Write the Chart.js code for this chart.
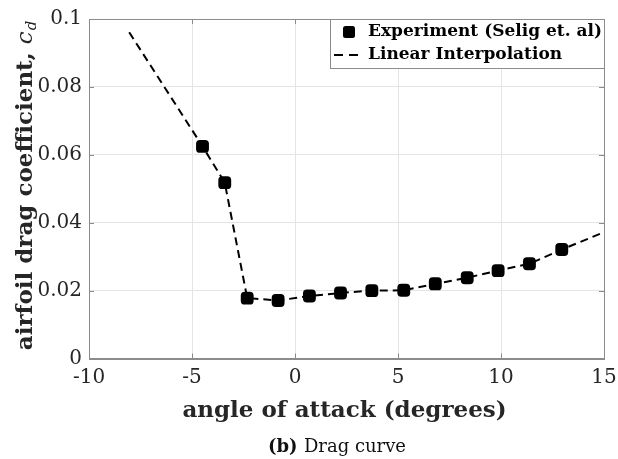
<!DOCTYPE html>
<html>
<head>
<meta charset="utf-8">
<script src="https://cdn.jsdelivr.net/npm/chart.js@4"></script>
<style>
  html, body { margin: 0; padding: 0; background: #fff; }
</style>
</head>
<body>
<canvas id="dragChart" width="618" height="459"></canvas>
<script>
// measured drag polar (angle of attack in degrees, drag coefficient)
const alphaExp = [-4.49, -3.41, -2.32, -0.82, 0.70, 2.21, 3.73, 5.28, 6.81, 8.36, 9.86, 11.38, 12.95];
const cdExp = [0.0625, 0.0518, 0.0178, 0.0171, 0.0184, 0.0193, 0.0200, 0.0201, 0.0220, 0.0238, 0.0259, 0.0279, 0.0321];

// piecewise linear curve through the points, carried out to both ends
const alphaFit = [-8.05, -4.49, -3.41, -2.32, -0.82, 0.70, 2.21, 3.73, 5.28, 6.81, 8.36, 9.86, 11.38, 12.95, 15];
const cdFit = [0.0961, 0.0625, 0.0518, 0.0178, 0.0171, 0.0184, 0.0193, 0.0200, 0.0201, 0.0220, 0.0238, 0.0259, 0.0279, 0.0321, 0.0372];

const xTicks = [-10, -5, 0, 5, 10, 15];
const yTicks = [0, 0.02, 0.04, 0.06, 0.08, 0.1];

const serif = "'DejaVu Serif', serif";
const axisGray = "#8c8c8c";
const textDark = "#262626";

const toPoints = (xs, ys) => xs.map((x, i) => ({ x: x, y: ys[i] }));

// box around the axes, inward tick marks, titles, caption and legend
const decorations = {
    id: "decorations",
    beforeDatasetsDraw(chart) {
        const ctx = chart.ctx;
        const a = chart.chartArea;
        const sx = chart.scales.x;
        const sy = chart.scales.y;
        ctx.save();
        ctx.strokeStyle = axisGray;
        ctx.lineWidth = 1;
        ctx.beginPath();
        xTicks.forEach(v => {
            const px = Math.round(sx.getPixelForValue(v)) + 0.5;
            ctx.moveTo(px, a.bottom); ctx.lineTo(px, a.bottom - 5);
            ctx.moveTo(px, a.top); ctx.lineTo(px, a.top + 5);
        });
        yTicks.forEach(v => {
            const py = Math.round(sy.getPixelForValue(v)) + 0.5;
            ctx.moveTo(a.left, py); ctx.lineTo(a.left + 5, py);
            ctx.moveTo(a.right, py); ctx.lineTo(a.right - 5, py);
        });
        ctx.stroke();
        ctx.strokeRect(Math.round(a.left) + 0.5, Math.round(a.top) + 0.5,
            Math.round(a.right - a.left), Math.round(a.bottom - a.top));
        ctx.restore();
    },
    afterDraw(chart) {
        const ctx = chart.ctx;
        const a = chart.chartArea;
        ctx.save();
        ctx.fillStyle = textDark;

        // x axis title
        ctx.font = "bold 23px " + serif;
        ctx.textAlign = "center";
        ctx.textBaseline = "alphabetic";
        ctx.fillText("angle of attack (degrees)", (a.left + a.right) / 2 - 2, 417);

        // y axis title with italic c_d
        ctx.save();
        ctx.translate(32, 186);
        ctx.rotate(-Math.PI / 2);
        const main = "airfoil drag coefficient, ";
        const boldFont = "bold 23px " + serif;
        const itFont = "italic 23px " + serif;
        const subFont = "italic 15px " + serif;
        ctx.font = boldFont; const w1 = ctx.measureText(main).width;
        ctx.font = itFont; const w2 = ctx.measureText("c").width;
        ctx.font = subFont; const w3 = ctx.measureText("d").width;
        let x0 = -(w1 + w2 + w3) / 2;
        ctx.textAlign = "left";
        ctx.font = boldFont; ctx.fillText(main, x0, 0);
        ctx.font = itFont; ctx.fillText("c", x0 + w1, 0);
        ctx.font = subFont; ctx.fillText("d", x0 + w1 + w2 + 1, 4);
        ctx.restore();

        // caption
        const capB = "(b) ";
        const capR = "Drag curve";
        ctx.font = "bold 18px " + serif; const cw1 = ctx.measureText(capB).width;
        ctx.font = "18px " + serif; const cw2 = ctx.measureText(capR).width;
        let cx = 337 - (cw1 + cw2) / 2;
        ctx.textAlign = "left";
        ctx.fillStyle = "#111";
        ctx.font = "bold 18px " + serif; ctx.fillText(capB, cx, 452);
        ctx.font = "18px " + serif; ctx.fillText(capR, cx + cw1, 452);

        // legend
        const lx = 330.5, ly = Math.round(a.top) + 0.5;
        const lw = Math.round(a.right) - 330, lh = 49;
        ctx.fillStyle = "#fff";
        ctx.fillRect(lx, ly, lw, lh);
        ctx.strokeStyle = axisGray;
        ctx.lineWidth = 1;
        ctx.strokeRect(lx, ly, lw, lh);

        ctx.fillStyle = "#000";
        ctx.beginPath();
        ctx.roundRect(343, 26, 12, 12, 2.5);
        ctx.fill();

        ctx.strokeStyle = "#000";
        ctx.lineWidth = 2;
        ctx.setLineDash([9, 6]);
        ctx.beginPath();
        ctx.moveTo(334, 55); ctx.lineTo(358, 55);
        ctx.stroke();
        ctx.setLineDash([]);

        ctx.font = "bold 17px " + serif;
        ctx.textBaseline = "middle";
        ctx.fillText(chart.data.datasets[0].label, 368, 32);
        ctx.fillText(chart.data.datasets[1].label, 368, 55);
        ctx.restore();
    }
};

const ctx = document.getElementById("dragChart").getContext("2d");
const dragChart = new Chart(ctx, {
    type: "scatter",
    data: {
        datasets: [
            {
                label: "Experiment (Selig et. al)",
                data: toPoints(alphaExp, cdExp),
                showLine: false,
                pointStyle: "rectRounded",
                pointRadius: 7.5,
                pointBorderWidth: 0,
                backgroundColor: "#000",
                borderColor: "#000",
            },
            {
                label: "Linear Interpolation",
                data: toPoints(alphaFit, cdFit),
                showLine: true,
                borderColor: "#000",
                borderWidth: 2,
                borderDash: [8, 5],
                pointRadius: 0,
                tension: 0,
            },
        ],
    },
    options: {
        responsive: false,
        animation: false,
        events: [],
        layout: { padding: { top: 19, right: 14, left: 0, bottom: 0 } },
        plugins: {
            legend: { display: false },
            tooltip: { enabled: false },
        },
        scales: {
            x: {
                type: "linear",
                min: -10,
                max: 15,
                afterBuildTicks: s => { s.ticks = xTicks.map(v => ({ value: v })); },
                afterFit: s => { s.height = 100.5; s.paddingLeft = 0; s.paddingRight = 0; },
                grid: { color: "#e4e4e4", drawTicks: false },
                border: { color: axisGray },
                ticks: {
                    font: { family: serif, size: 20 },
                    color: textDark,
                    padding: 7,
                    maxRotation: 0,
                    callback: v => String(v),
                },
            },
            y: {
                type: "linear",
                min: 0,
                max: 0.1,
                afterBuildTicks: s => { s.ticks = yTicks.map(v => ({ value: v })); },
                afterFit: s => { s.width = 89; s.paddingTop = 0; s.paddingBottom = 0; },
                grid: { color: "#e4e4e4", drawTicks: false },
                border: { color: axisGray },
                ticks: {
                    font: { family: serif, size: 20 },
                    color: textDark,
                    padding: 7,
                    callback: v => String(+v.toFixed(2)),
                },
            },
        },
    },
    plugins: [decorations],
});
</script>
</body>
</html>
